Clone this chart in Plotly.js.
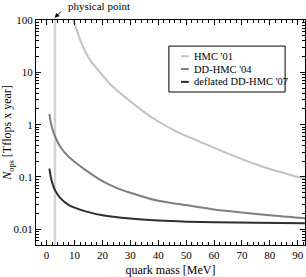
<!DOCTYPE html>
<html><head><meta charset="utf-8">
<script src="https://cdn.plot.ly/plotly-3.0.1.min.js"></script>
<style>html,body{margin:0;padding:0;background:#fff;}#chart{width:306px;height:277px;}</style>
</head><body><div id="chart"></div>
<script>
const seriesNames = ["HMC '01", "DD-HMC '04", "deflated DD-HMC '07"];
const seriesColors = ["#c2c2c2", "#7f7f7f", "#2e2e2e"];

const hmcMass = [9.3, 10.5, 12, 14, 16, 19, 23, 28, 34, 40, 47, 55, 65, 77, 90, 92.6];
const hmcCost = [108, 72, 42, 24, 16, 10.2, 5.8, 3.4, 1.9, 1.15, 0.72, 0.47, 0.28, 0.16, 0.1, 0.092];

const ddMass = [1, 1.5, 2, 3, 5, 8, 10, 14, 20, 25, 30, 40, 50, 60, 70, 80, 92.6];
const ddCost = [1.6, 1.1, 0.85, 0.6, 0.37, 0.24, 0.195, 0.135, 0.083, 0.062, 0.05, 0.035, 0.029, 0.024, 0.021, 0.0185, 0.0162];

const defMass = [1, 1.5, 2, 3, 5, 8, 10, 14, 20, 30, 40, 50, 60, 75, 92.6];
const defCost = [0.145, 0.1, 0.078, 0.056, 0.039, 0.029, 0.026, 0.022, 0.0185, 0.016, 0.0147, 0.014, 0.0137, 0.0134, 0.013];

const physicalPoint = 3;
const yTickVals = [0.01, 0.1, 1, 10, 100];
const yTickText = ["0.01", "0.1", "1", "10", "100"];
const xTickVals = [0, 10, 20, 30, 40, 50, 60, 70, 80, 90];

const serif = "Liberation Serif, Times New Roman, serif";
const masses = [hmcMass, ddMass, defMass];
const costs = [hmcCost, ddCost, defCost];

const traces = masses.map((m, i) => ({
  x: m, y: costs[i], type: "scatter", mode: "lines",
  line: {color: seriesColors[i], width: 2, shape: "spline", smoothing: 0.8},
  name: seriesNames[i], showlegend: false, hoverinfo: "skip"
}));

// custom legend (paper coords)
const legX0 = 0.494, legX1 = 0.926, legY0 = 0.680, legY1 = 0.884;
const entryY = [0.839, 0.782, 0.725];
const shapes = [
  {type: "line", xref: "x", yref: "paper", x0: physicalPoint, x1: physicalPoint, y0: 0, y1: 1,
   line: {color: "#d4d4d4", width: 2.5}, layer: "below"},
  {type: "rect", xref: "paper", yref: "paper", x0: legX0, x1: legX1, y0: legY0, y1: legY1,
   line: {color: "#000", width: 1}, fillcolor: "#fff"},
  // arrow for "physical point" label
  {type: "line", xref: "paper", yref: "paper", x0: 0.0929, y0: 1.0378, x1: 0.0790, y1: 1.0210,
   line: {color: "#000", width: 1}},
  {type: "path", xref: "paper", yref: "paper",
   path: "M 0.0706 1.0111 L 0.0864 1.0174 L 0.0759 1.0300 Z",
   fillcolor: "#000", line: {color: "#000", width: 0.5}}
];
const annotations = [];
seriesNames.forEach((n, i) => {
  shapes.push({type: "line", xref: "paper", yref: "paper", x0: 0.539, x1: 0.568, y0: entryY[i], y1: entryY[i],
    line: {color: seriesColors[i], width: 2}});
  annotations.push({xref: "paper", yref: "paper", x: 0.579, y: entryY[i], xanchor: "left", yanchor: "middle",
    text: n, showarrow: false, font: {family: serif, size: 10.5, color: "#000"}});
});
annotations.push({xref: "paper", yref: "paper", x: 0.113, y: 1.063, xanchor: "left", yanchor: "middle",
  text: "physical point", showarrow: false, font: {family: serif, size: 11, color: "#000"}});

const layout = {
  width: 306, height: 277,
  margin: {l: 36, r: 1, t: 20, b: 32},
  paper_bgcolor: "#fff", plot_bgcolor: "#fff",
  font: {family: serif, size: 11, color: "#000"},
  showlegend: false,
  xaxis: {
    range: [-3.8, 92.6], tickvals: xTickVals, ticks: "inside", ticklen: 5, tickcolor: "#000",
    minor: {dtick: 2, tick0: 0, ticks: "inside", ticklen: 3, tickcolor: "#000"},
    showline: true, linecolor: "#000", linewidth: 1, mirror: "allticks",
    showgrid: false, zeroline: false, tickfont: {family: serif, size: 11},
    title: {text: "quark mass [MeV]", font: {family: serif, size: 12}, standoff: 6}
  },
  yaxis: {
    type: "log", range: [-2.30, 2], tickvals: yTickVals, ticktext: yTickText,
    ticks: "inside", ticklen: 5, tickcolor: "#000",
    minor: {dtick: "D1", ticks: "inside", ticklen: 3, tickcolor: "#000"},
    showline: true, linecolor: "#000", linewidth: 1, mirror: "allticks",
    showgrid: false, zeroline: false, tickfont: {family: serif, size: 11},
    title: {text: "<i>N</i><sub>ops</sub> [Tflops x year]", font: {family: serif, size: 12}, standoff: 4}
  },
  shapes: shapes,
  annotations: annotations
};

Plotly.newPlot("chart", traces, layout, {staticPlot: true, displayModeBar: false});
</script></body></html>
